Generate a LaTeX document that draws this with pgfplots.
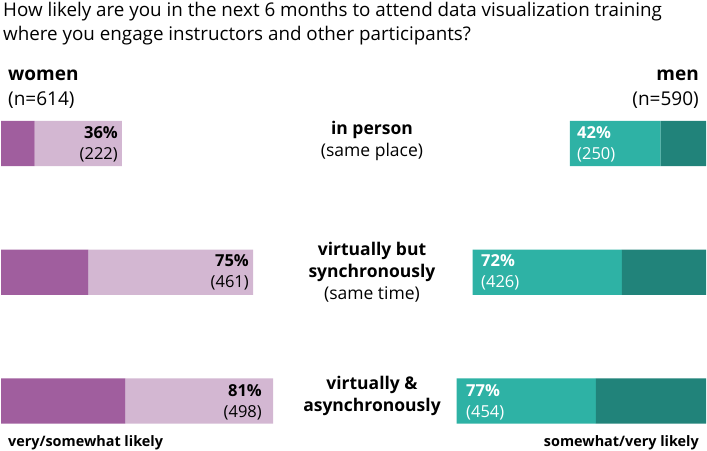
\documentclass[border=0pt]{standalone}
\usepackage{pgfplots}
\pgfplotsset{compat=1.18}
\usepackage{fontspec}
\setmainfont{Open Sans}
\definecolor{wdark}{HTML}{A05E9E}
\definecolor{wlight}{HTML}{D3B7D2}
\definecolor{mlight}{HTML}{2EB2A5}
\definecolor{mdark}{HTML}{21837A}
\begin{document}
\begin{tikzpicture}
\pgfplotsset{base/.style={
  width=707pt, height=450pt, scale only axis, hide axis, at={(0,0)}, anchor=south west,
  xbar stacked, bar width=0.35, y dir=reverse, ymin=-1.1146, ymax=2.3806,
  clip=false}}
% women (left)
\begin{axis}[base, xmin=-0.3, xmax=210.1]
\addplot[fill=wdark, draw=none] coordinates {(10,0) (26,1) (37,2)};
\addplot[fill=wlight, draw=none] coordinates {(26,0) (49,1) (44,2)};
\end{axis}
% men (right)
\begin{axis}[base, x dir=reverse, xmin=-0.31, xmax=217.9]
\addplot[fill=mdark, draw=none] coordinates {(14,0) (26,1) (34,2)};
\addplot[fill=mlight, draw=none] coordinates {(28,0) (46,1) (43,2)};
\end{axis}
% texts (1pt = 1px, y from top = 450 - y)
\begin{scope}[every node/.style={inner sep=0}]
\fontsize{18.8}{24}\selectfont
\node[anchor=base west] at (3pt,{450pt-16.5pt}) {How likely are you in the next 6 months to attend data visualization training};
\node[anchor=base west] at (3pt,{450pt-40.5pt}) {where you engage instructors and other participants?};
\fontsize{19}{24}\selectfont
\node[anchor=base west, font=\bfseries] at (8pt,{450pt-81pt}) {women};
\node[anchor=base west] at (8pt,{450pt-106pt}) {(n=614)};
\node[anchor=base east, font=\bfseries] at (699pt,{450pt-81pt}) {men};
\node[anchor=base east] at (699pt,{450pt-106pt}) {(n=590)};
\fontsize{17.5}{22}\selectfont
% category labels
\node[anchor=base, font=\bfseries] at (372pt,{450pt-135pt}) {in person};
\node[anchor=base] at (372pt,{450pt-157pt}) {(same place)};
\node[anchor=base, font=\bfseries] at (372pt,{450pt-256pt}) {virtually but};
\node[anchor=base, font=\bfseries] at (372pt,{450pt-278pt}) {synchronously};
\node[anchor=base] at (372pt,{450pt-300pt}) {(same time)};
\node[anchor=base, font=\bfseries] at (372pt,{450pt-390pt}) {virtually \&};
\node[anchor=base, font=\bfseries] at (372pt,{450pt-412pt}) {asynchronously};
\fontsize{16.5}{22}\selectfont
% women bar labels
\node[anchor=base east, font=\bfseries] at (118pt,{450pt-139pt}) {36\%};
\node[anchor=base east] at (118pt,{450pt-160pt}) {(222)};
\node[anchor=base east, font=\bfseries] at (249pt,{450pt-267pt}) {75\%};
\node[anchor=base east] at (249pt,{450pt-288pt}) {(461)};
\node[anchor=base east, font=\bfseries] at (262pt,{450pt-397pt}) {81\%};
\node[anchor=base east] at (262pt,{450pt-417pt}) {(498)};
% men bar labels
\node[anchor=base west, font=\bfseries, text=white] at (577pt,{450pt-139pt}) {42\%};
\node[anchor=base west, text=white] at (577pt,{450pt-160pt}) {(250)};
\node[anchor=base west, font=\bfseries, text=white] at (481pt,{450pt-267pt}) {72\%};
\node[anchor=base west, text=white] at (481pt,{450pt-288pt}) {(426)};
\node[anchor=base west, font=\bfseries, text=white] at (466pt,{450pt-397pt}) {77\%};
\node[anchor=base west, text=white] at (466pt,{450pt-417pt}) {(454)};
\fontsize{14.4}{18}\selectfont
% bottom labels
\node[anchor=base west, font=\bfseries] at (8pt,{450pt-446pt}) {very/somewhat likely};
\node[anchor=base east, font=\bfseries] at (699pt,{450pt-446pt}) {somewhat/very likely};
\end{scope}
\pgfresetboundingbox
\useasboundingbox (0,0) rectangle (707pt,450pt);
\end{tikzpicture}
\end{document}
